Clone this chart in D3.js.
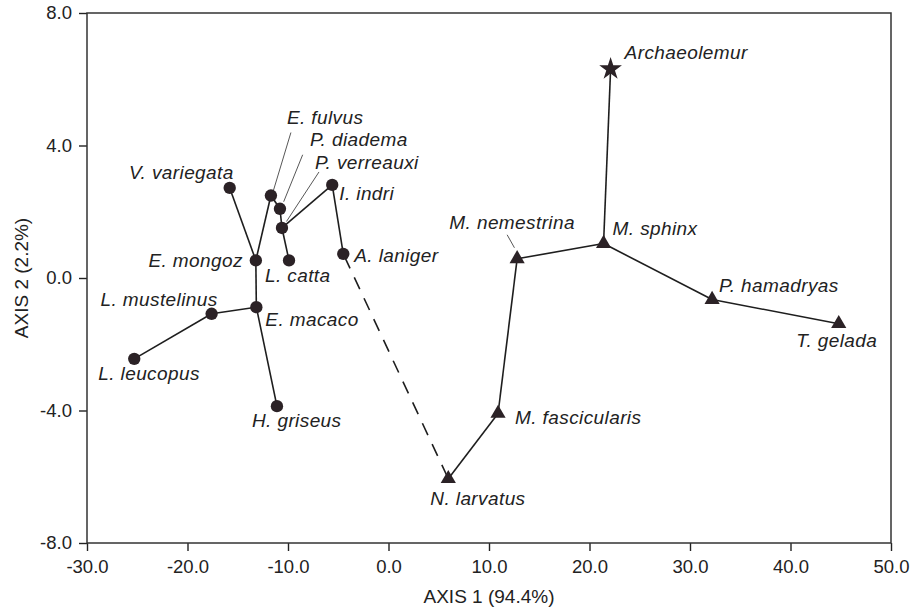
<!DOCTYPE html>
<html>
<head>
<meta charset="utf-8">
<script src="https://cdn.jsdelivr.net/npm/d3@7"></script>
<style>
  body { margin: 0; background: #fff; }
  svg { display: block; font-family: "Liberation Sans", Arial, Helvetica, sans-serif; }
</style>
</head>
<body>
<div id="chart"></div>
<script>
// Chart size and plot area
const WIDTH = 920;
const HEIGHT = 609;
const MARGIN = { left: 87, top: 13, right: 29, bottom: 66 };
const INK = "#2b2226";

// Species and their ordination scores
const species = [
    "V. variegata", "E. fulvus", "P. diadema", "P. verreauxi", "I. indri", "E. mongoz",
    "L. catta", "A. laniger", "E. macaco", "L. mustelinus", "L. leucopus", "H. griseus",
    "M. nemestrina", "M. sphinx", "P. hamadryas", "T. gelada", "M. fascicularis",
    "N. larvatus", "Archaeolemur"
];
const axis1 = [
    -15.8, -11.7, -10.8, -10.6, -5.6, -13.2,
    -9.9, -4.5, -13.15, -17.6, -25.3, -11.1,
    12.8, 21.4, 32.2, 44.8, 10.9,
    5.95, 22.1
];
const axis2 = [
    2.72, 2.49, 2.09, 1.51, 2.81, 0.53,
    0.53, 0.73, -0.88, -1.08, -2.44, -3.87,
    0.58, 1.04, -0.65, -1.38, -4.09,
    -6.06, 6.31
];
const markerType = [
    "circle", "circle", "circle", "circle", "circle", "circle",
    "circle", "circle", "circle", "circle", "circle", "circle",
    "triangle", "triangle", "triangle", "triangle", "triangle",
    "triangle", "star"
];

// Tree connections
const solidLinks = [
    ["V. variegata", "E. mongoz"], ["E. fulvus", "E. mongoz"], ["E. fulvus", "P. diadema"],
    ["P. diadema", "P. verreauxi"], ["P. verreauxi", "L. catta"], ["P. verreauxi", "I. indri"],
    ["I. indri", "A. laniger"], ["E. mongoz", "E. macaco"], ["E. macaco", "L. mustelinus"],
    ["L. mustelinus", "L. leucopus"], ["E. macaco", "H. griseus"],
    ["N. larvatus", "M. fascicularis"], ["M. fascicularis", "M. nemestrina"],
    ["M. nemestrina", "M. sphinx"], ["M. sphinx", "Archaeolemur"],
    ["M. sphinx", "P. hamadryas"], ["P. hamadryas", "T. gelada"]
];
const dashedLinks = [["A. laniger", "N. larvatus"]];

const xTicks = [-30, -20, -10, 0, 10, 20, 30, 40, 50];
const yTicks = [-8, -4, 0, 4, 8];
const xTitle = "AXIS 1 (94.4%)";
const yTitle = "AXIS 2 (2.2%)";

// Label placement relative to each marker (pixels)
const LABELS = {
    "V. variegata": { dx: 4, dy: -9, anchor: "end" },
    "E. fulvus": { dx: 16, dy: -72, anchor: "start" },
    "P. diadema": { dx: 30, dy: -63, anchor: "start" },
    "P. verreauxi": { dx: 33, dy: -59, anchor: "start" },
    "I. indri": { dx: 7, dy: 15, anchor: "start" },
    "A. laniger": { dx: 11, dy: 8, anchor: "start" },
    "E. mongoz": { dx: -13, dy: 7, anchor: "end" },
    "L. catta": { dx: -24, dy: 22, anchor: "start" },
    "L. mustelinus": { dx: 6, dy: -8, anchor: "end" },
    "E. macaco": { dx: 9, dy: 19, anchor: "start" },
    "L. leucopus": { dx: -36, dy: 21, anchor: "start" },
    "H. griseus": { dx: -25, dy: 21, anchor: "start" },
    "Archaeolemur": { dx: 14, dy: -10, anchor: "start" },
    "M. nemestrina": { dx: -5, dy: -30, anchor: "middle" },
    "M. sphinx": { dx: 9, dy: -9, anchor: "start" },
    "P. hamadryas": { dx: 7, dy: -8, anchor: "start" },
    "T. gelada": { dx: -2, dy: 23, anchor: "middle" },
    "M. fascicularis": { dx: 17, dy: 11, anchor: "start" },
    "N. larvatus": { dx: -18, dy: 26, anchor: "start" }
};
// Thin leader lines from crowded labels down to their markers
const LEADERS = {
    "E. fulvus": [[20, -63], [2.5, -5]],
    "P. diadema": [[22.7, -54], [3.7, -7]],
    "P. verreauxi": [[37, -56], [4.5, -6.5]],
    "M. nemestrina": [[-10, -24], [-2.7, -11]]
};

draw();

function draw () {
    const points = species.map((name, i) => ({ name, x: axis1[i], y: axis2[i], type: markerType[i] }));
    const byName = new Map(points.map(d => [d.name, d]));

    const x = d3.scaleLinear().domain([-30, 50]).range([MARGIN.left, WIDTH - MARGIN.right]);
    const y = d3.scaleLinear().domain([-8, 8]).range([HEIGHT - MARGIN.bottom, MARGIN.top]);

    const svg = d3.select("#chart").append("svg")
        .attr("width", WIDTH)
        .attr("height", HEIGHT);

    // Axes (plain hyphen for negatives, like the printed figure)
    const fmt = v => d3.format(".1f")(v).replace("\u2212", "-");
    const xAxis = svg.append("g")
        .attr("transform", `translate(0,${HEIGHT - MARGIN.bottom})`)
        .call(d3.axisBottom(x).tickValues(xTicks).tickFormat(fmt).tickSize(8).tickSizeOuter(0).tickPadding(9));
    const yAxis = svg.append("g")
        .attr("transform", `translate(${MARGIN.left},0)`)
        .call(d3.axisLeft(y).tickValues(yTicks).tickFormat(fmt).tickSize(8).tickSizeOuter(0).tickPadding(7));

    [xAxis, yAxis].forEach(g => {
        g.select(".domain").remove();
        g.selectAll(".tick line").attr("stroke", "#222").attr("stroke-width", 1.4);
        g.selectAll(".tick text")
            .attr("fill", "#222")
            .style("font-size", "18.5px")
            .style("font-family", "'Liberation Sans', Arial, sans-serif");
    });

    // Frame around plot
    svg.append("rect")
        .attr("x", x(-30))
        .attr("y", y(8))
        .attr("width", x(50) - x(-30))
        .attr("height", y(-8) - y(8))
        .attr("fill", "none")
        .attr("stroke", "#333")
        .attr("stroke-width", 1.5);

    // Axis titles
    svg.append("text")
        .attr("x", (x(-30) + x(50)) / 2)
        .attr("y", 603)
        .attr("text-anchor", "middle")
        .attr("fill", "#222")
        .style("font-size", "19px")
        .text(xTitle);

    svg.append("text")
        .attr("transform", `translate(28,${(y(8) + y(-8)) / 2}) rotate(-90)`)
        .attr("text-anchor", "middle")
        .attr("fill", "#222")
        .style("font-size", "19px")
        .text(yTitle);

    // Connecting lines
    svg.append("g").selectAll("line.solid")
        .data(solidLinks)
        .enter().append("line")
        .attr("class", "solid")
        .attr("x1", d => x(byName.get(d[0]).x))
        .attr("y1", d => y(byName.get(d[0]).y))
        .attr("x2", d => x(byName.get(d[1]).x))
        .attr("y2", d => y(byName.get(d[1]).y))
        .attr("stroke", "#1e1e1e")
        .attr("stroke-width", 1.6);

    svg.append("g").selectAll("line.dashed")
        .data(dashedLinks)
        .enter().append("line")
        .attr("class", "dashed")
        .attr("x1", d => x(byName.get(d[0]).x))
        .attr("y1", d => y(byName.get(d[0]).y))
        .attr("x2", d => x(byName.get(d[1]).x))
        .attr("y2", d => y(byName.get(d[1]).y))
        .attr("stroke", "#1e1e1e")
        .attr("stroke-width", 1.6)
        .attr("stroke-dasharray", "13,10")
        .attr("stroke-dashoffset", -3);

    // Leader lines
    svg.append("g").selectAll("line.leader")
        .data(Object.keys(LEADERS))
        .enter().append("line")
        .attr("class", "leader")
        .attr("x1", d => x(byName.get(d).x) + LEADERS[d][0][0])
        .attr("y1", d => y(byName.get(d).y) + LEADERS[d][0][1])
        .attr("x2", d => x(byName.get(d).x) + LEADERS[d][1][0])
        .attr("y2", d => y(byName.get(d).y) + LEADERS[d][1][1])
        .attr("stroke", "#444")
        .attr("stroke-width", 0.9);

    // Markers
    const symbolFor = { circle: d3.symbolCircle, triangle: d3.symbolTriangle, star: d3.symbolStar };
    const sizeFor = { circle: 120, triangle: 100, star: 160 };
    svg.append("g").selectAll("path.marker")
        .data(points)
        .enter().append("path")
        .attr("class", "marker")
        .attr("transform", d => `translate(${x(d.x)},${y(d.y)})`)
        .attr("d", d => d3.symbol().type(symbolFor[d.type]).size(sizeFor[d.type])())
        .attr("fill", INK);

    // Species labels
    svg.append("g").selectAll("text.label")
        .data(points)
        .enter().append("text")
        .attr("class", "label")
        .attr("x", d => x(d.x) + LABELS[d.name].dx)
        .attr("y", d => y(d.y) + LABELS[d.name].dy)
        .attr("text-anchor", d => LABELS[d.name].anchor)
        .attr("fill", "#222")
        .style("font-size", "19px")
        .style("font-style", "italic")
        .style("letter-spacing", "0.4px")
        .text(d => d.name);
}
</script>
</body>
</html>
